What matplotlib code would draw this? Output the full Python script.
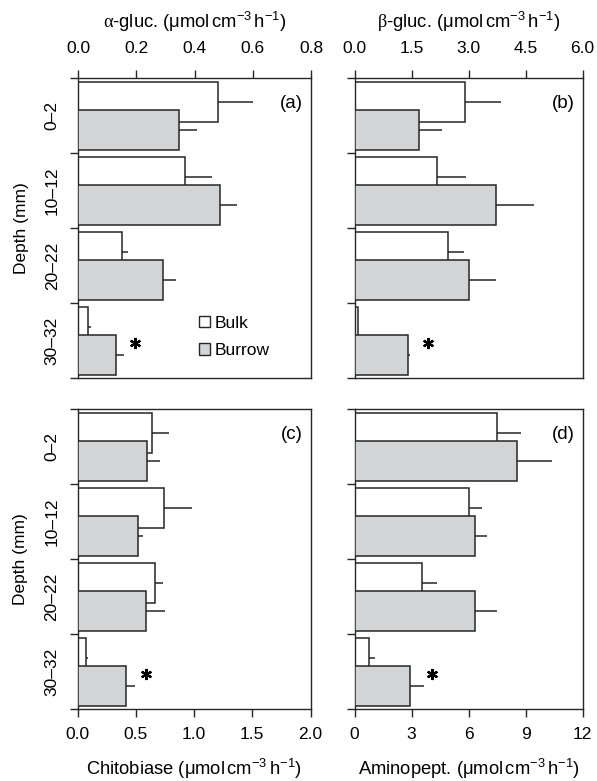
import matplotlib
matplotlib.use("Agg")
import matplotlib.pyplot as plt
import numpy as np
from matplotlib.patches import Patch

plt.rcParams['font.family'] = ['Liberation Sans', 'DejaVu Sans']
plt.rcParams['mathtext.fontset'] = 'custom'
plt.rcParams['mathtext.rm'] = 'Liberation Sans'
plt.rcParams['mathtext.it'] = 'Liberation Sans:italic'
plt.rcParams['mathtext.cal'] = 'Liberation Serif'

depths = ["0\u20132", "10\u201312", "20\u201322", "30\u201332"]

# panel (a) alpha-glucosidase
a_bulk = [0.482, 0.366, 0.152, 0.033]
a_bulk_se = [0.118, 0.094, 0.020, 0.011]
a_burrow = [0.346, 0.488, 0.292, 0.129]
a_burrow_se = [0.063, 0.057, 0.043, 0.029]

# panel (b) beta-glucosidase
b_bulk = [2.91, 2.17, 2.47, 0.08]
b_bulk_se = [0.95, 0.77, 0.41, 0.02]
b_burrow = [1.70, 3.72, 3.00, 1.41]
b_burrow_se = [0.60, 1.01, 0.72, 0.04]

# panel (c) chitobiase
c_bulk = [0.64, 0.745, 0.667, 0.069]
c_bulk_se = [0.145, 0.235, 0.069, 0.017]
c_burrow = [0.60, 0.52, 0.584, 0.414]
c_burrow_se = [0.11, 0.04, 0.163, 0.076]

# panel (d) aminopeptidase
d_bulk = [7.50, 6.03, 3.56, 0.77]
d_bulk_se = [1.26, 0.66, 0.78, 0.29]
d_burrow = [8.53, 6.34, 6.34, 2.94]
d_burrow_se = [1.89, 0.65, 1.14, 0.70]

# significance stars (x value, depth group index)
star_x = [0.195, 1.93, 0.59, 4.1]
star_group = [3, 3, 3, 3]

xlims = [0.8, 6.0, 2.0, 12.0]
xticks = [[0.0, 0.2, 0.4, 0.6, 0.8], [0.0, 1.5, 3.0, 4.5, 6.0],
          [0.0, 0.5, 1.0, 1.5, 2.0], [0, 3, 6, 9, 12]]
xticklabels = [["0.0", "0.2", "0.4", "0.6", "0.8"], ["0.0", "1.5", "3.0", "4.5", "6.0"],
               ["0.0", "0.5", "1.0", "1.5", "2.0"], ["0", "3", "6", "9", "12"]]
units = r" $\mathregular{(\mu mol\,cm^{-3}\,h^{-1})}$"
xlabels = [r"$\mathcal{\alpha}$-gluc." + units, r"$\mathcal{\beta}$-gluc." + units,
           "Chitobiase" + units, "Aminopept." + units]
letters = ["(a)", "(b)", "(c)", "(d)"]

panels = [(a_bulk, a_bulk_se, a_burrow, a_burrow_se),
          (b_bulk, b_bulk_se, b_burrow, b_burrow_se),
          (c_bulk, c_bulk_se, c_burrow, c_burrow_se),
          (d_bulk, d_bulk_se, d_burrow, d_burrow_se)]

W, H = 597, 781
fig = plt.figure(figsize=(W / 100, H / 100), dpi=100)
boxes = [(78, 311, 78, 378), (354.5, 582.5, 78, 378),
         (77.5, 310.5, 409, 709), (354.5, 582.5, 409, 709)]

edge = '#262626'
gray = '#d3d4d6'
fs = 12.5
fs_lab = 13.2
bar_h = 0.53
off_bulk = 0.32
off_burrow = 0.69

for k, (box, data) in enumerate(zip(boxes, panels)):
    l, r, t, b = box
    ax = fig.add_axes([l / W, 1 - b / H, (r - l) / W, (b - t) / H])
    bulk, bulk_se, bur, bur_se = data
    idx = np.arange(len(depths))
    yb = idx + off_bulk
    yr = idx + off_burrow
    ax.barh(yb, bulk, height=bar_h, color='white', edgecolor=edge, linewidth=1.1, zorder=2)
    ax.errorbar(bulk, yb, xerr=[np.zeros(len(bulk)), bulk_se], fmt='none',
                ecolor=edge, elinewidth=1.1, capsize=0, zorder=2.5)
    ax.barh(yr, bur, height=bar_h, color=gray, edgecolor=edge, linewidth=1.1, zorder=3)
    ax.errorbar(bur, yr, xerr=[np.zeros(len(bur)), bur_se], fmt='none',
                ecolor=edge, elinewidth=1.1, capsize=0, zorder=3.5)
    ax.plot([star_x[k]], [star_group[k] + 0.53], linestyle='none', marker=(6, 2, 0),
            markersize=8, markeredgewidth=1.6, color='black', zorder=4)

    ax.set_xlim(0, xlims[k])
    ax.set_ylim(len(depths), 0)
    ax.set_xticks(xticks[k])
    ax.set_xticklabels(xticklabels[k], fontsize=fs)
    ax.set_yticks(np.arange(len(depths) + 1))
    ax.set_yticklabels([])
    ax.set_yticks(idx + 0.5, minor=True)
    for sp in ax.spines.values():
        sp.set_linewidth(1.0)
        sp.set_color(edge)
    ax.tick_params(axis='both', which='major', direction='out', length=6, width=1.0, color=edge)
    ax.tick_params(axis='y', which='minor', length=0)
    if k in (0, 2):
        ax.set_yticklabels(depths, minor=True, rotation=90, va='center', ha='center', fontsize=fs)
        ax.tick_params(axis='y', which='minor', pad=18.5)
        ax.set_ylabel("Depth (mm)", fontsize=fs, labelpad=11.5)
    else:
        ax.set_yticklabels([], minor=True)
    if k < 2:
        ax.xaxis.tick_top()
        ax.xaxis.set_label_position('top')
        ax.tick_params(axis='x', pad=9.5)
        ax.set_xlabel(xlabels[k], fontsize=fs_lab, labelpad=10)
    else:
        ax.tick_params(axis='x', pad=7)
        ax.set_xlabel(xlabels[k], fontsize=fs_lab, labelpad=11)
    ax.text(0.965, 0.915, letters[k], transform=ax.transAxes, ha='right', va='center', fontsize=13.5)

    if k == 0:
        handles = [Patch(facecolor='white', edgecolor=edge, linewidth=1.0, label='Bulk'),
                   Patch(facecolor=gray, edgecolor=edge, linewidth=1.0, label='Burrow')]
        ax.legend(handles=handles, loc='upper left', bbox_to_anchor=(0.52, 0.208),
                  frameon=False, fontsize=fs, handlelength=0.63, handleheight=0.63,
                  handletextpad=0.25, labelspacing=0.72, borderpad=0, borderaxespad=0)

fig.savefig("out.png", dpi=100)
